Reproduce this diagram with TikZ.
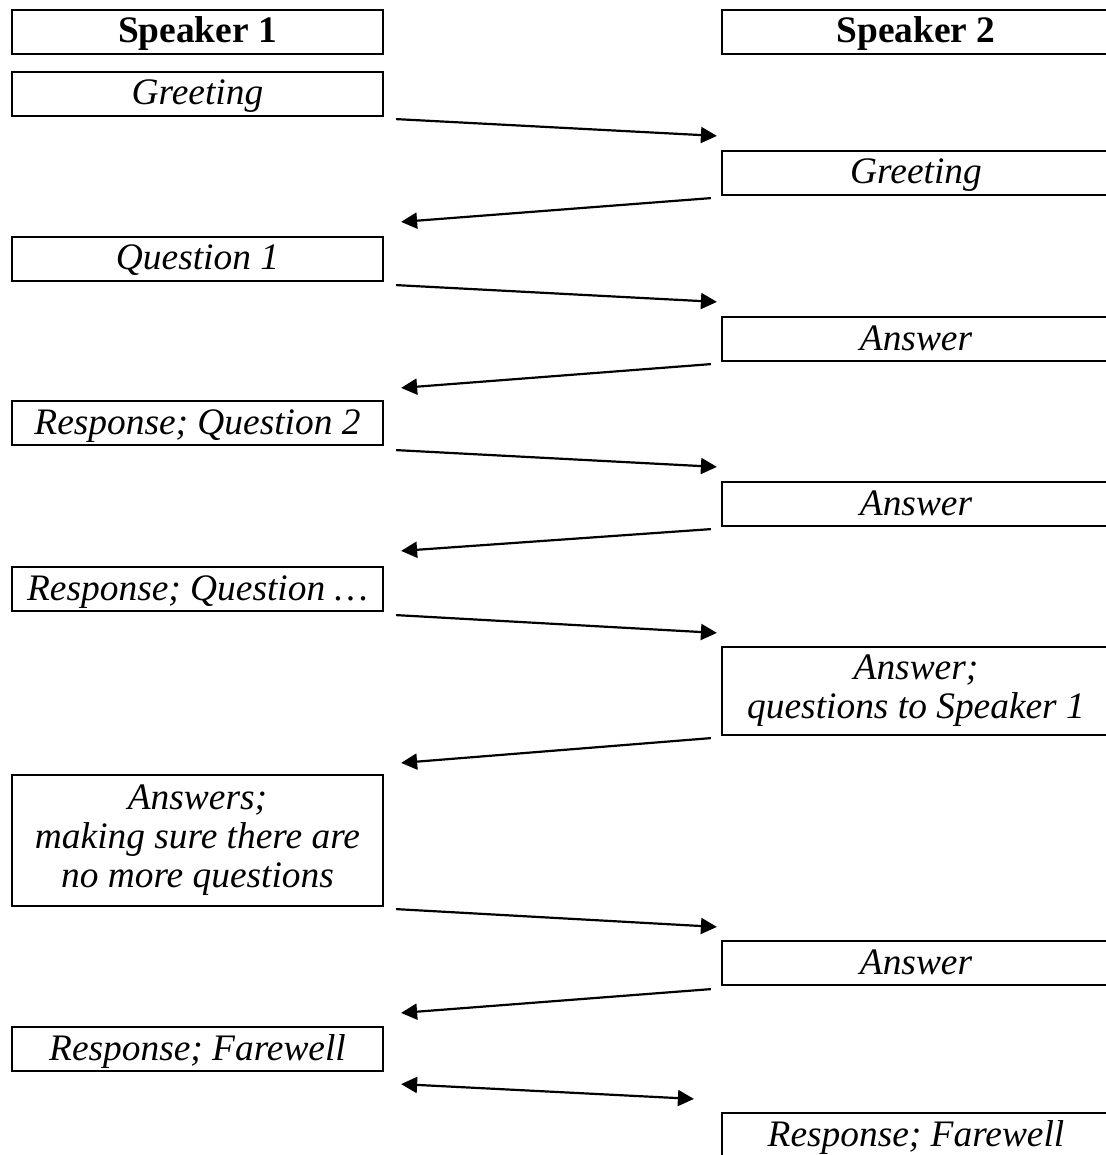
\documentclass[tikz,border=0pt]{standalone}
\usepackage{fontspec}
\setmainfont{Liberation Serif}
\usetikzlibrary{arrows.meta,positioning}

\begin{document}
\begin{tikzpicture}[x=0.5pt, y=-0.5pt,
    turn/.style={draw, rectangle, line width=1.1pt, inner sep=0pt, align=center,
        font=\fontsize{18.7}{19.5}\selectfont\itshape},
    lturn/.style={turn, minimum width=185.5pt},
    rturn/.style={turn, minimum width=194pt},
    oneline/.style={minimum height=22pt, text height=15pt, text depth=4pt},
    head/.style={font=\fontsize{18.7}{19.5}\selectfont\bfseries},
    msg/.style={line width=1.1pt, -{Triangle[length=8pt,width=8pt]}},
    both/.style={line width=1.1pt, {Triangle[length=8pt,width=8pt]}-{Triangle[length=8pt,width=8pt]}}]
    \useasboundingbox (0,0) rectangle (1105,1155);

    % speakers
    \node[lturn, oneline, head] (spk1) at (197.5,32) {Speaker 1};
    \node[rturn, oneline, head] (spk2) at (916,32) {Speaker 2};

    % speaker 1 turns
    \node[lturn, oneline] (lgreet) at (197.5,94) {Greeting};
    \node[lturn, oneline] (lq1) at (197.5,259) {Question 1};
    \node[lturn, oneline] (lq2) at (197.5,423) {Response; Question 2};
    \node[lturn, oneline] (lq3) at (197.5,589) {Response; Question \dots};
    \node[lturn, minimum height=65.5pt] (lans) at (197.5,840.5)
        {Answers;\\ making sure there are\\ no more questions};
    \node[lturn, oneline] (lbye) at (197.5,1049) {Response; Farewell};

    % speaker 2 turns
    \node[rturn, oneline] (rgreet) at (916,173) {Greeting};
    \node[rturn, oneline] (ra1) at (916,339) {Answer};
    \node[rturn, oneline] (ra2) at (916,504) {Answer};
    \node[rturn, minimum height=44pt] (ra3) at (916,691) {Answer;\\ questions to Speaker 1};
    \node[rturn, oneline] (ra4) at (916,963) {Answer};
    \node[rturn, oneline] (rbye) at (916,1135) {Response; Farewell};

    % exchanges
    \draw[msg] ([shift={(12,2)}]lgreet.south east) -- ([shift={(-4,-14)}]rgreet.north west);
    \draw[msg] ([shift={(-10,2)}]rgreet.south west) -- ([shift={(17,-14)}]lq1.north east);
    \draw[msg] ([shift={(12,3)}]lq1.south east) -- ([shift={(-4,-14)}]ra1.north west);
    \draw[msg] ([shift={(-10,2)}]ra1.south west) -- ([shift={(17,-12)}]lq2.north east);
    \draw[msg] ([shift={(12,4)}]lq2.south east) -- ([shift={(-4,-14)}]ra2.north west);
    \draw[msg] ([shift={(-10,2)}]ra2.south west) -- ([shift={(17,-15)}]lq3.north east);
    \draw[msg] ([shift={(12,3)}]lq3.south east) -- ([shift={(-4,-13)}]ra3.north west);
    \draw[msg] ([shift={(-10,2)}]ra3.south west) -- ([shift={(17,-11)}]lans.north east);
    \draw[msg] ([shift={(12,2)}]lans.south east) -- ([shift={(-4,-13)}]ra4.north west);
    \draw[msg] ([shift={(-10,3)}]ra4.south west) -- ([shift={(17,-13)}]lbye.north east);
    \draw[both] ([shift={(17,12)}]lbye.south east) -- ([shift={(-27,-13)}]rbye.north west);
\end{tikzpicture}
\end{document}
